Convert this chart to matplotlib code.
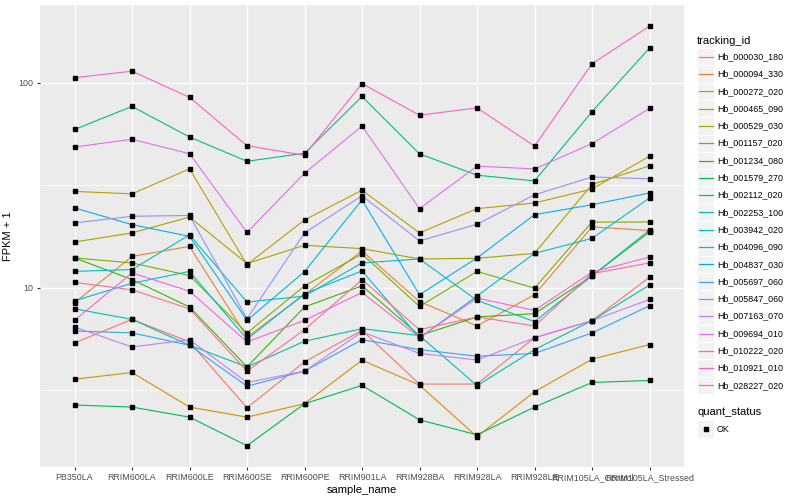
import numpy as np
import matplotlib.pyplot as plt
from matplotlib.patches import Rectangle
from matplotlib.lines import Line2D

plt.rcParams['font.family'] = ['Liberation Sans', 'DejaVu Sans']

samples = ['PB350LA', 'RRIM600LA', 'RRIM600LE', 'RRIM600SE', 'RRIM600PE', 'RRIM901LA',
           'RRIM928BA', 'RRIM928LA', 'RRIM928LE', 'RRIM105LA_Control', 'RRIM105LA_Stressed']

# FPKM + 1
Hb_000030_180 = [5.37, 7.0, 5.43, 2.59, 4.34, 6.18, 3.38, 3.38, 5.70, 6.89, 11.25]
Hb_000094_330 = [8.43, 14.2, 15.9, 5.74, 9.23, 15.1, 8.55, 6.50, 9.23, 19.8, 19.0]
Hb_000272_020 = [3.57, 3.85, 2.61, 2.33, 2.71, 4.42, 3.34, 1.87, 3.10, 4.47, 5.27]
Hb_000465_090 = [29.5, 28.7, 38.0, 12.95, 21.4, 29.9, 18.5, 24.3, 25.9, 30.3, 43.8]
Hb_000529_030 = [16.7, 18.5, 22.1, 13.1, 16.1, 15.5, 13.8, 13.9, 14.7, 31.9, 39.3]
Hb_001157_020 = [13.96, 13.2, 11.45, 6.0, 10.2, 14.6, 8.09, 12.0, 9.94, 20.9, 20.9]
Hb_001234_080 = [13.96, 10.95, 8.04, 4.10, 8.04, 10.2, 5.83, 7.19, 7.46, 11.4, 18.7]
Hb_001579_270 = [2.67, 2.61, 2.33, 1.69, 2.71, 3.33, 2.26, 1.91, 2.61, 3.44, 3.52]
Hb_002112_020 = [59.2, 76.7, 54.4, 41.4, 45.3, 85.8, 45.0, 35.4, 33.2, 72.3, 148.0]
Hb_002253_100 = [7.88, 7.0, 5.23, 4.10, 5.47, 6.30, 5.83, 3.32, 4.98, 6.9, 10.3]
Hb_003942_020 = [12.0, 12.25, 18.1, 8.5, 9.09, 13.2, 13.8, 8.66, 6.82, 11.4, 19.1]
Hb_004096_090 = [8.62, 10.5, 12.0, 5.60, 9.33, 12.07, 5.68, 9.09, 14.7, 17.4, 27.4]
Hb_004837_030 = [24.5, 20.3, 17.8, 6.92, 11.97, 26.8, 9.23, 13.96, 22.7, 25.4, 29.0]
Hb_005697_060 = [6.14, 6.01, 5.23, 3.30, 3.91, 5.57, 4.98, 4.62, 4.77, 6.01, 8.15]
Hb_005847_060 = [20.7, 22.3, 22.5, 7.05, 18.5, 28.1, 16.9, 20.4, 28.4, 34.7, 34.0]
Hb_007163_070 = [6.42, 5.13, 5.57, 3.44, 3.91, 6.07, 4.77, 4.43, 5.68, 6.9, 8.75]
Hb_009694_010 = [48.6, 53.0, 45.1, 18.6, 36.2, 61.5, 24.3, 39.2, 38.0, 50.5, 75.0]
Hb_010222_020 = [6.92, 11.8, 9.61, 5.43, 6.92, 9.47, 5.70, 8.89, 7.74, 11.9, 14.1]
Hb_010921_010 = [106.0, 114.0, 85.0, 49.3, 44.3, 99.2, 69.5, 75.5, 49.1, 124.0, 189.0]
Hb_028227_020 = [10.6, 9.76, 7.88, 3.91, 6.23, 10.95, 6.23, 7.19, 6.50, 11.7, 13.2]

series = {
    'Hb_000030_180': Hb_000030_180, 'Hb_000094_330': Hb_000094_330,
    'Hb_000272_020': Hb_000272_020, 'Hb_000465_090': Hb_000465_090,
    'Hb_000529_030': Hb_000529_030, 'Hb_001157_020': Hb_001157_020,
    'Hb_001234_080': Hb_001234_080, 'Hb_001579_270': Hb_001579_270,
    'Hb_002112_020': Hb_002112_020, 'Hb_002253_100': Hb_002253_100,
    'Hb_003942_020': Hb_003942_020, 'Hb_004096_090': Hb_004096_090,
    'Hb_004837_030': Hb_004837_030, 'Hb_005697_060': Hb_005697_060,
    'Hb_005847_060': Hb_005847_060, 'Hb_007163_070': Hb_007163_070,
    'Hb_009694_010': Hb_009694_010, 'Hb_010222_020': Hb_010222_020,
    'Hb_010921_010': Hb_010921_010, 'Hb_028227_020': Hb_028227_020,
}

colors = ['#F8766D', '#EA8331', '#D89000', '#C09B00', '#A3A500', '#7CAE00', '#39B600',
          '#00BB4E', '#00BF7D', '#00C1A3', '#00BFC4', '#00BAE0', '#00B0F6', '#35A2FF',
          '#9590FF', '#C77CFF', '#E76BF3', '#FA62DB', '#FF62BC', '#FF6C91']

W, H = 800, 500
fig = plt.figure(figsize=(8, 5), dpi=100)
fig.patch.set_facecolor('white')
ax = fig.add_axes([40 / W, 1 - 467 / H, (684 - 40) / W, (467 - 5) / H])
ax.set_facecolor('#EBEBEB')

x = np.arange(len(samples))
for (name, vals), c in zip(series.items(), colors):
    ax.plot(x, vals, color=c, lw=0.8, zorder=3)
for name, vals in series.items():
    ax.plot(x, vals, ls='none', marker='s', ms=2.3, color='black', zorder=4)

ax.set_yscale('log')
ax.set_ylim(1.33, 240)
ax.set_xlim(-0.6, len(samples) - 0.4)

ax.set_xticks(x)
ax.set_xticklabels(samples)
ax.set_yticks([10, 100])
ax.set_yticklabels(['10', '100'])
ax.set_yticks([10 ** 0.5, 10 ** 1.5], minor=True)
ax.yaxis.set_minor_formatter(plt.NullFormatter())
ax.tick_params(axis='both', which='major', length=2.5, width=0.8, color='#333333',
               labelcolor='#4D4D4D', labelsize=6.4, pad=2)
ax.tick_params(axis='y', which='minor', length=0)
ax.tick_params(axis='x', which='minor', length=0)

ax.grid(True, which='major', color='white', lw=1.0, zorder=0)
ax.grid(True, which='minor', axis='y', color='white', lw=0.5, zorder=0)
ax.set_axisbelow(True)
for s in ax.spines.values():
    s.set_visible(False)

ax.set_xlabel('sample_name', fontsize=8, labelpad=2)
ax.set_ylabel('FPKM + 1', fontsize=8, labelpad=4)


def fx(px):
    return px / W


def fy(py):
    return 1 - py / H


# legend: tracking_id
fig.text(fx(697), fy(40.7), 'tracking_id', fontsize=8, va='center', ha='left')
row = 17.3
for i, (name, c) in enumerate(zip(series.keys(), colors)):
    yc = 56.7 + row * i
    fig.add_artist(Rectangle((fx(697), fy(yc + row / 2)), fx(17.3), row / H,
                             transform=fig.transFigure, facecolor='#F2F2F2',
                             edgecolor='white', lw=0.8))
    fig.add_artist(Line2D([fx(698.7), fx(712.6)], [fy(yc), fy(yc)],
                          transform=fig.transFigure, color=c, lw=0.9))
    fig.text(fx(717), fy(yc), name, fontsize=6.4, va='center', ha='left')

# legend: quant_status
fig.text(fx(697), fy(412.3), 'quant_status', fontsize=8, va='center', ha='left')
yc = 429
fig.add_artist(Rectangle((fx(697), fy(yc + row / 2)), fx(17.3), row / H,
                         transform=fig.transFigure, facecolor='#F2F2F2',
                         edgecolor='white', lw=0.8))
fig.add_artist(Line2D([fx(705.6)], [fy(yc)], transform=fig.transFigure,
                      marker='s', ms=2.3, color='black', ls='none'))
fig.text(fx(717), fy(yc), 'OK', fontsize=6.4, va='center', ha='left')

fig.savefig('out.png', dpi=100)
